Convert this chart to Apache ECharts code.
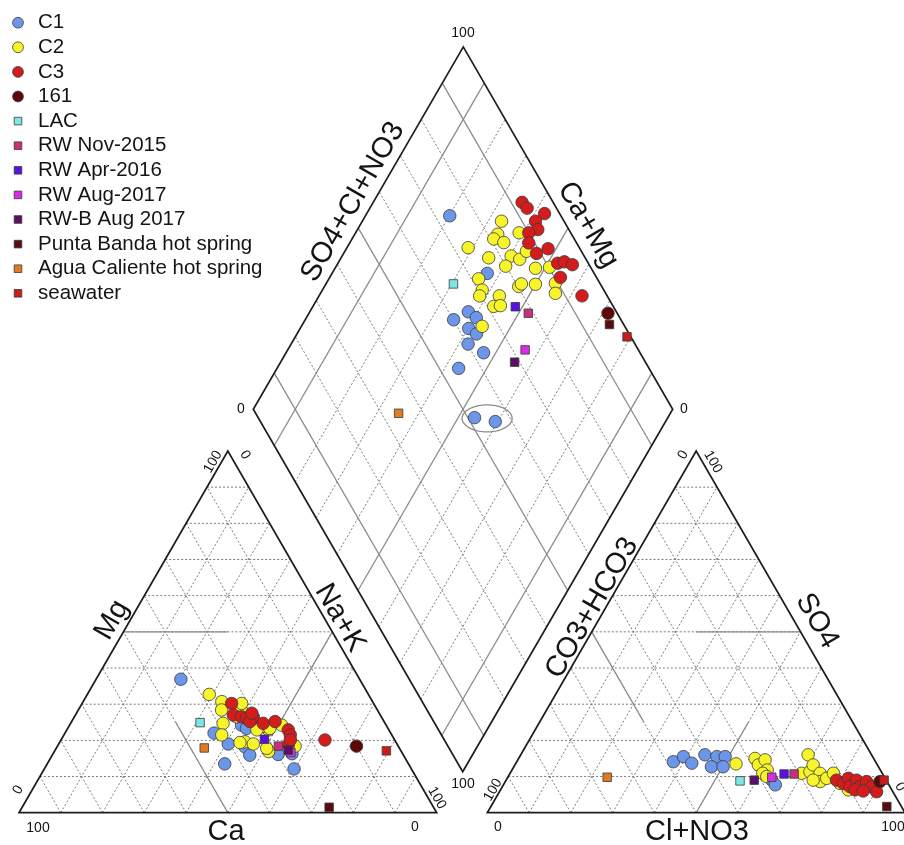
<!DOCTYPE html>
<html>
<head>
<meta charset="utf-8">
<script src="https://cdn.jsdelivr.net/npm/echarts@6/dist/echarts.min.js"></script>
<style>
html,body{margin:0;padding:0;background:#ffffff;}
#chart{width:904px;height:845px;}
</style>
</head>
<body>
<div id="chart"></div>
<script>
// ---------------- DATA (percent) ----------------
// Cation triangle points: [Ca, Mg, Na+K]
const c1Cation = [[42.8,36.9,20.3],[42.3,22.0,35.7],[40.4,19.0,40.6],[36.8,18.2,45.0],[36.8,15.9,47.3],[44.0,13.5,42.5],[29.9,16.1,54.0],[28.1,12.1,59.8],[34.6,24.2,41.2],[33.9,23.3,42.8],[26.5,16.3,57.2]];
const c2Cation = [[38.1,32.7,29.2],[36.1,30.7,33.2],[37.3,28.4,34.3],[38.8,24.7,36.5],[40.7,21.5,37.8],[32.6,28.2,39.2],[31.6,30.2,38.2],[34.7,26.5,38.8],[36.1,19.6,44.3],[37.4,19.4,43.2],[34.4,19.0,46.6],[31.8,16.9,51.3],[24.7,18.4,56.9],[28.8,22.9,48.3],[30.0,23.8,46.2],[25.0,24.2,50.8],[28.3,23.3,48.4],[31.6,22.9,45.5],[31.8,17.8,50.4]];
const c3Cation = [[34.0,30.2,35.8],[35.2,27.0,37.8],[33.5,26.5,40.0],[32.5,26.1,41.4],[30.7,26.4,42.9],[32.1,25.2,42.7],[29.2,24.7,46.1],[26.1,25.2,48.7],[24.1,22.9,53.0],[24.3,21.5,54.2],[26.2,18.7,55.1],[16.7,20.1,63.2],[25.0,20.1,54.9],[30.5,27.5,42.0]];
const s161Cation = [[10.0,18.4,71.6]];
const lacCation = [[44.2,24.9,30.9]];
const rwNov15Cation = [[28.7,18.4,52.9]];
const rwApr16Cation = [[31.1,20.3,48.6]];
const rwAug17Cation = [[26.6,16.6,56.8]];
const rwbAug17Cation = [[26.9,17.3,55.8]];
const puntaCation = [[25.0,1.5,73.5]];
const aguaCation = [[46.7,17.9,35.4]];
const seawaterCation = [[3.5,17.1,79.4]];

// Anion triangle points: [CO3+HCO3, SO4, Cl+NO3]
const c1Anion = [[48.4,14.1,37.5],[45.3,15.5,39.2],[44.2,13.7,42.1],[39.9,16.0,44.1],[37.3,15.5,47.2],[35.3,15.5,49.2],[40.0,12.7,47.3],[37.2,12.7,50.1],[27.4,9.1,63.5],[27.2,7.7,65.1]];
const c2Anion = [[33.7,13.5,52.8],[28.4,15.0,56.6],[28.5,13.2,58.3],[26.2,14.6,59.2],[27.1,11.8,61.1],[28.6,10.9,60.5],[15.2,16.0,68.8],[19.3,10.9,69.8],[17.1,11.3,71.6],[15.4,13.2,71.4],[14.9,10.9,74.2],[16.0,8.6,75.4],[14.0,9.5,76.5],[11.7,10.9,77.4],[11.5,8.1,80.4],[10.4,6.3,83.3],[17.5,9.0,73.5],[28.1,10.0,61.9]];
const c3Anion = [[11.9,9.0,79.1],[10.7,8.1,81.2],[8.8,9.5,81.7],[9.6,7.2,83.2],[7.1,9.0,83.9],[7.2,7.2,85.6],[4.9,8.6,86.5],[4.4,7.2,88.4],[3.9,5.8,90.3],[8.8,6.3,84.9],[7.0,6.0,87.0]];
const s161Anion = [[1.7,8.6,89.7]];
const lacAnion = [[35.1,8.8,56.1]];
const rwNov15Anion = [[21.2,10.7,68.1]];
const rwApr16Anion = [[23.6,10.7,65.7]];
const rwAug17Anion = [[27.0,9.8,63.2]];
const rwbAug17Anion = [[31.6,9.0,59.4]];
const puntaAnion = [[3.5,1.7,94.8]];
const aguaAnion = [[66.4,9.8,23.8]];
const seawaterAnion = [[0.5,9.0,90.5]];

// Diamond points: [SO4+Cl+NO3, Ca+Mg]
const c1Diamond = [[73.5,79.9],[74.5,63.0],[64.7,62.2],[60.1,64.6],[65.8,59.5],[62.5,59.8],[63.6,57.2],[60.2,57.8],[62.7,52.9],[54.6,56.7],[51.6,46.1],[56.0,40.6]];
const c2Diamond = [[85.1,66.8],[73.5,71.1],[82.4,65.9],[80.8,66.2],[82.7,63.3],[87.7,61.0],[77.0,64.8],[82.6,59.7],[84.2,57.2],[79.9,59.6],[86.9,56.7],[86.7,52.2],[90.2,49.0],[71.7,64.3],[71.0,61.9],[69.6,61.7],[74.3,57.0],[71.5,56.9],[73.2,55.4],[80.2,53.7],[81.2,53.4],[84.5,50.0],[89.4,45.4],[88.0,44.0],[66.0,56.9]];
const c3Diamond = [[92.6,64.5],[93.0,62.5],[96.4,57.6],[93.2,58.7],[92.6,57.0],[90.0,58.7],[88.6,57.3],[89.0,54.0],[92.4,51.9],[92.7,47.6],[94.5,46.2],[96.0,43.9],[91.4,45.0],[94.0,37.3]];
const s161Diamond = [[97.8,28.7]];
const lacDiamond = [[65.0,69.6]];
const rwNov15Diamond = [[78.8,47.7]];
const rwApr16Diamond = [[76.6,51.7]];
const rwAug17Diamond = [[73.0,43.4]];
const rwbAug17Diamond = [[68.8,44.2]];
const puntaDiamond = [[96.6,26.8]];
const aguaDiamond = [[34.1,64.8]];
const seawaterDiamond = [[99.1,20.9]];

// Highlighted pair in the diamond (ellipse centre): [SO4+Cl+NO3, Ca+Mg]
const circledPair = [[54.5,43.0]];

// Grid and tick values
const gridSteps = [10,20,30,40,50,60,70,80,90];
const diamondSolid = [10,50,90];
const tickLow = '0';
const tickHigh = '100';

const seriesNames = ['C1','C2','C3','161','LAC','RW Nov-2015','RW Apr-2016','RW Aug-2017','RW-B Aug 2017','Punta Banda hot spring','Agua Caliente hot spring','seawater'];

// ---------------- LAYOUT ----------------
const CAT = {x0:19, y0:812.7, side:417.7};
const AN  = {x0:487.3, y0:812.7, side:417.7};
const DIA = {bx:462.7, by:771.7, rx:210.0, ry:-362.4, lx:-209.4, ly:-362.4};
const H = Math.sqrt(3)/2;

// ternary: l = bottom-left vertex %, t = apex %, r = bottom-right vertex %
function tri(T, l, t, r) {
  const s = l + t + r;
  const tt = t / s, rr = r / s;
  return [T.x0 + (rr + tt/2) * T.side, T.y0 - tt * T.side * H];
}
function dia(a, c) {
  return [DIA.bx + a/100*DIA.rx + c/100*DIA.lx, DIA.by + a/100*DIA.ry + c/100*DIA.ly];
}

// ---------------- GRID LINES ----------------
const dashedSegs = [];
const solidSegs = [];
function pushSeg(arr, p, q) { arr.push([p[0], p[1], q[0], q[1]]); }

[CAT, AN].forEach(T => {
  gridSteps.forEach(k => {
    pushSeg(dashedSegs, tri(T, 100-k, k, 0), tri(T, 0, k, 100-k));   // apex component = k
    pushSeg(dashedSegs, tri(T, 100-k, 0, k), tri(T, 0, 100-k, k));   // right component = k
    pushSeg(dashedSegs, tri(T, k, 0, 100-k), tri(T, k, 100-k, 0));   // left component = k
  });
});
// classification segments (cation: Ca,Mg,Na ; anion: CO3,SO4,Cl)
pushSeg(solidSegs, tri(CAT, 50, 50, 0), tri(CAT, 25, 50, 25));
pushSeg(solidSegs, tri(CAT, 50, 0, 50), tri(CAT, 50, 25, 25));
pushSeg(solidSegs, tri(CAT, 0, 50, 50), tri(CAT, 25, 25, 50));
pushSeg(solidSegs, tri(AN, 0, 50, 50), tri(AN, 25, 50, 25));
pushSeg(solidSegs, tri(AN, 50, 50, 0), tri(AN, 50, 25, 25));
pushSeg(solidSegs, tri(AN, 50, 0, 50), tri(AN, 25, 25, 50));

gridSteps.forEach(k => {
  const target = diamondSolid.indexOf(k) >= 0 ? solidSegs : dashedSegs;
  pushSeg(target, dia(k, 0), dia(k, 100));
  pushSeg(target, dia(0, k), dia(100, k));
});

const outlines = [
  [tri(CAT,100,0,0), tri(CAT,0,100,0), tri(CAT,0,0,100)],
  [tri(AN,100,0,0), tri(AN,0,100,0), tri(AN,0,0,100)],
  [dia(0,0), dia(100,0), dia(100,100), dia(0,100)]
];

function segSeries(segs, style, z) {
  return {
    type: 'custom', coordinateSystem: 'cartesian2d', silent: true, z: z,
    data: segs, encode: {x: [0, 2], y: [1, 3]}, clip: false,
    renderItem: function (params, api) {
      const p1 = api.coord([api.value(0), api.value(1)]);
      const p2 = api.coord([api.value(2), api.value(3)]);
      return {type: 'line', shape: {x1: p1[0], y1: p1[1], x2: p2[0], y2: p2[1]},
              style: Object.assign({fill: null}, style)};
    }
  };
}

const outlineSeries = {
  type: 'custom', coordinateSystem: 'cartesian2d', silent: true, z: 3, clip: false,
  data: outlines.map(o => [o[0][0], o[0][1]]),
  renderItem: function (params, api) {
    const pts = outlines[params.dataIndex].map(p => api.coord(p));
    return {type: 'polygon', shape: {points: pts},
            style: {fill: 'none', stroke: '#1e1e1e', lineWidth: 1.7}};
  }
};

const ellipseSeries = {
  type: 'custom', coordinateSystem: 'cartesian2d', silent: true, z: 4, clip: false,
  data: circledPair.map(p => dia(p[0], p[1])),
  renderItem: function (params, api) {
    const c = api.coord([api.value(0), api.value(1)]);
    const pts = [];
    for (let i = 0; i < 72; i++) {
      const t = i / 72 * Math.PI * 2;
      pts.push([c[0] + 25 * Math.cos(t), c[1] + 13.5 * Math.sin(t)]);
    }
    return {type: 'polygon', shape: {points: pts},
            style: {fill: 'none', stroke: '#8a8a8a', lineWidth: 1.3}};
  }
};

// ---------------- SCATTER SERIES ----------------
const groups = [
  {name:'C1', symbol:'circle', color:'#6b96ea', cation:c1Cation, anion:c1Anion, diamond:c1Diamond},
  {name:'C2', symbol:'circle', color:'#f7f42a', cation:c2Cation, anion:c2Anion, diamond:c2Diamond},
  {name:'C3', symbol:'circle', color:'#d41c1c', cation:c3Cation, anion:c3Anion, diamond:c3Diamond},
  {name:'161', symbol:'circle', color:'#5e0909', cation:s161Cation, anion:s161Anion, diamond:s161Diamond},
  {name:'LAC', symbol:'rect', color:'#7fe6e8', cation:lacCation, anion:lacAnion, diamond:lacDiamond},
  {name:'RW Nov-2015', symbol:'rect', color:'#c8307c', cation:rwNov15Cation, anion:rwNov15Anion, diamond:rwNov15Diamond},
  {name:'RW Apr-2016', symbol:'rect', color:'#5a12e2', cation:rwApr16Cation, anion:rwApr16Anion, diamond:rwApr16Diamond},
  {name:'RW Aug-2017', symbol:'rect', color:'#d92ceb', cation:rwAug17Cation, anion:rwAug17Anion, diamond:rwAug17Diamond},
  {name:'RW-B Aug 2017', symbol:'rect', color:'#5c0f66', cation:rwbAug17Cation, anion:rwbAug17Anion, diamond:rwbAug17Diamond},
  {name:'Punta Banda hot spring', symbol:'rect', color:'#5a0c0c', cation:puntaCation, anion:puntaAnion, diamond:puntaDiamond},
  {name:'Agua Caliente hot spring', symbol:'rect', color:'#e07b22', cation:aguaCation, anion:aguaAnion, diamond:aguaDiamond},
  {name:'seawater', symbol:'rect', color:'#cc1b1b', cation:seawaterCation, anion:seawaterAnion, diamond:seawaterDiamond}
];

const scatterSeries = [];
groups.forEach((g, gi) => {
  const size = g.symbol === 'circle' ? 12.5 : 8.5;
  const style = {color: g.color, borderColor: '#3a3a3a', borderWidth: 0.8, opacity: 1};
  const sets = [
    g.cation.map(v => tri(CAT, v[0], v[1], v[2])),
    g.anion.map(v => tri(AN, v[0], v[1], v[2])),
    g.diamond.map(v => dia(v[0], v[1]))
  ];
  sets.forEach(d => {
    scatterSeries.push({
      name: g.name, type: 'scatter', symbol: g.symbol, symbolSize: size,
      data: d, itemStyle: style, z: 10 + gi, silent: true, clip: false
    });
  });
});

// ---------------- TEXT ----------------
const FONT = "'Liberation Sans', Arial, Helvetica, sans-serif";
const D = Math.PI / 180;
function txt(text, x, y, size, rot) {
  return {type: 'text', x: x, y: y, rotation: (rot || 0) * D, z: 100,
    style: {text: text, fontSize: size, fontFamily: FONT, fill: '#141414',
            align: 'center', verticalAlign: 'middle', textAlign: 'center', textVerticalAlign: 'middle'}};
}
const TS = 14;
const AX = 29;
const labels = [
  // diamond
  txt('SO4+Cl+NO3', 353, 202, AX, 60),
  txt('Ca+Mg', 588, 225, AX, -60),
  txt(tickHigh, 463, 33, TS), txt(tickLow, 241, 409, TS), txt(tickLow, 684, 409, TS), txt(tickHigh, 463, 784, TS),
  // cation triangle
  txt('Mg', 112, 620, AX, 60),
  txt('Na+K', 340, 618, AX, -60),
  txt('Ca', 226, 832, AX, 0),
  txt(tickHigh, 38, 828, TS), txt(tickLow, 415, 827, TS),
  txt(tickLow, 18, 790, TS, 60), txt(tickHigh, 213, 462, TS, 60),
  txt(tickLow, 245, 455, TS, -60), txt(tickHigh, 437, 798, TS, -60),
  // anion triangle
  txt('CO3+HCO3', 592, 608, AX, 60),
  txt('SO4', 817, 621, AX, -60),
  txt('Cl+NO3', 697, 832, AX, 0),
  txt(tickLow, 498, 827, TS), txt(tickHigh, 893, 827, TS),
  txt(tickHigh, 493, 790, TS, 60), txt(tickLow, 683, 455, TS, 60),
  txt(tickHigh, 713, 462, TS, -60), txt(tickLow, 900, 787, TS, -60)
];

// legend (drawn as graphic items, same colours as the series)
const legendItems = [];
groups.forEach((g, i) => {
  const y = 22.7 + 24.6 * i;
  if (g.symbol === 'circle') {
    legendItems.push({type: 'circle', shape: {cx: 18, cy: y, r: 5.4}, z: 100,
      style: {fill: g.color, stroke: '#3a3a3a', lineWidth: 0.8}});
  } else {
    legendItems.push({type: 'rect', shape: {x: 14.2, y: y - 3.8, width: 7.6, height: 7.6}, z: 100,
      style: {fill: g.color, stroke: '#3a3a3a', lineWidth: 0.8}});
  }
  legendItems.push({type: 'text', x: 38, y: y, z: 100,
    style: {text: seriesNames[i], fontSize: 20.5, fontFamily: FONT, fill: '#141414',
            align: 'left', verticalAlign: 'middle', textAlign: 'left', textVerticalAlign: 'middle'}});
});

// ---------------- CHART ----------------
const chart = echarts.init(document.getElementById('chart'), null, {renderer: 'canvas'});
chart.setOption({
  animation: false,
  backgroundColor: '#ffffff',
  grid: {left: 0, right: 0, top: 0, bottom: 0, containLabel: false},
  xAxis: {type: 'value', min: 0, max: 904, show: false},
  yAxis: {type: 'value', min: 0, max: 845, inverse: true, show: false},
  graphic: labels.concat(legendItems),
  series: [
    segSeries(dashedSegs, {stroke: '#6e6e6e', lineWidth: 0.9, lineDash: [2, 2]}, 1),
    segSeries(solidSegs, {stroke: '#8c8c8c', lineWidth: 1.3}, 2),
    outlineSeries,
    ellipseSeries
  ].concat(scatterSeries)
});
</script>
</body>
</html>
